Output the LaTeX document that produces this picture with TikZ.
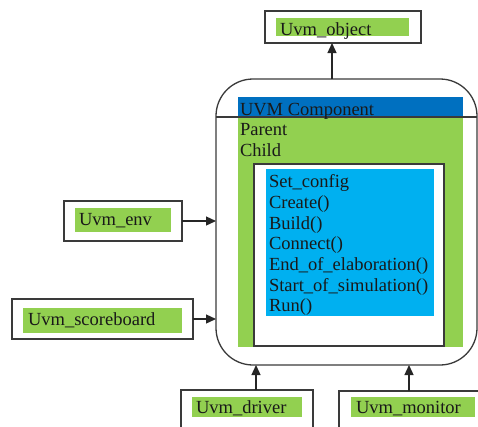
\documentclass[tikz,border=0pt]{standalone}
\usepackage{fontspec}
\setmainfont{Liberation Serif}
\usetikzlibrary{arrows.meta}
\definecolor{lgreen}{HTML}{92D050}
\definecolor{hblue}{HTML}{0070C0}
\definecolor{lblue}{HTML}{00B0F0}
\definecolor{edge}{HTML}{3A3A3A}
\begin{document}
\begin{tikzpicture}[x=1pt,y=-1pt,
  every node/.style={inner sep=0pt,outer sep=0pt},
  rect/.style={anchor=north west},
  obox/.style={rect,draw=edge,line width=1.4pt,fill=white},
  gbox/.style={rect,fill=lgreen},
  lbl/.style={anchor=base west,text=black!90,font=\fontsize{18.5}{20}\selectfont},
  arr/.style={draw=black!85,line width=1.3pt,-{Triangle[length=10pt,width=9pt]}}
]
\useasboundingbox (0,0) rectangle (478,426);
\clip (0,0) rectangle (478,426);

% main component
\node[rect,draw=edge,line width=1.3pt,rounded corners=37pt,minimum width=261pt,minimum height=286pt] (comp) at (216,79) {};
\node[gbox,minimum width=225pt,minimum height=250pt] (panel) at (238,97) {};
\node[rect,fill=hblue,minimum width=225pt,minimum height=20pt] (head) at (238,97) {};
\draw[draw=edge,line width=1.2pt] (comp.west |- head.south) -- (comp.east |- head.south);
\node[lbl] (t1) at (240,115) {UVM Component};
\node[lbl] (t2) at (240,135) {Parent};
\node[lbl] (t3) at (240,156) {Child};
\node[rect,draw=edge,line width=1.4pt,fill=white,minimum width=190pt,minimum height=182pt] (inner) at (254,164) {};
\node[rect,fill=lblue,minimum width=168pt,minimum height=147pt] (list) at (266,169) {};
\node[lbl] (l1) at (269,187) {Set\_config};
\node[lbl] (l2) at (269,208) {Create()};
\node[lbl] (l3) at (269,229) {Build()};
\node[lbl] (l4) at (269,249) {Connect()};
\node[lbl] (l5) at (269,270) {End\_of\_elaboration()};
\node[lbl] (l6) at (269,291) {Start\_of\_simulation()};
\node[lbl] (l7) at (269,311) {Run()};

% uvm_object
\node[obox,minimum width=156pt,minimum height=32pt] (obj) at (265,11) {};
\node[gbox,minimum width=133pt,minimum height=18pt] (objg) at (276,18) {};
\node[lbl] (objt) at (280,35) {Uvm\_object};

% uvm_env
\node[obox,minimum width=118pt,minimum height=40pt] (env) at (64,201) {};
\node[gbox,minimum width=96pt,minimum height=24pt] (envg) at (75,208) {};
\node[lbl] (envt) at (79,225) {Uvm\_env};

% uvm_scoreboard
\node[obox,minimum width=181pt,minimum height=40pt] (sb) at (12,299) {};
\node[gbox,minimum width=159pt,minimum height=25pt] (sbg) at (23,308) {};
\node[lbl] (sbt) at (28,325) {Uvm\_scoreboard};

% uvm_driver
\node[obox,minimum width=132pt,minimum height=45pt] (drv) at (181,390) {};
\node[gbox,minimum width=110pt,minimum height=20pt] (drvg) at (192,397) {};
\node[lbl] (drvt) at (196,413) {Uvm\_driver};

% uvm_monitor
\node[obox,minimum width=150pt,minimum height=45pt] (mon) at (339,391) {};
\node[gbox,minimum width=124pt,minimum height=20pt] (mong) at (351,397) {};
\node[lbl] (mont) at (356,413) {Uvm\_monitor};

% connectors
\coordinate (ax) at (332,0);
\coordinate (dx) at (256,0);
\coordinate (mx) at (409,0);
\draw[arr] (comp.north -| ax) -- (obj.south -| ax);
\draw[arr] (env.east) -- (env.east -| comp.west);
\draw[arr] (sb.east) -- (sb.east -| comp.west);
\draw[arr] (drv.north -| dx) -- (comp.south -| dx);
\draw[arr] (mon.north -| mx) -- (comp.south -| mx);
\end{tikzpicture}
\end{document}
